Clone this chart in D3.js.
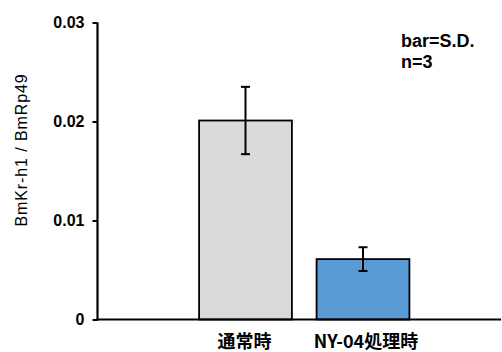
<!DOCTYPE html>
<html><head><meta charset="utf-8">
<script src="https://cdn.jsdelivr.net/npm/d3@7"></script>
<style>body{margin:0;background:#fff}svg{display:block}</style>
</head><body>
<svg id="c" width="502" height="352"></svg>
<script>
const categories = ["通常時", "NY-04処理時"];
const means = [0.0201, 0.0061];
const sds = [0.0034, 0.0012];
const colors = ["#d9d9d9", "#5b9bd5"];
const yTicks = [0, 0.01, 0.02, 0.03];
const yTickLabels = ["0", "0.01", "0.02", "0.03"];

const svg = d3.select("#c");
const font = "'Liberation Sans', Arial, sans-serif";
const y = d3.scaleLinear().domain([0, 0.03]).range([319.5, 22.5]);
const x = d3.scaleBand().domain(categories).range([186.75, 421.75]).paddingInner(0.21).paddingOuter(0.105);
const axisX = 97.5;

// bars
svg.selectAll("rect.bar").data(categories).enter().append("rect")
  .attr("x", d => x(d)).attr("width", x.bandwidth())
  .attr("y", (d,i) => y(means[i])).attr("height", (d,i) => y(0) - y(means[i]))
  .attr("fill", (d,i) => colors[i]).attr("stroke", "#000").attr("stroke-width", 1.8);

// error bars
categories.forEach((c,i) => {
  const cx = x(c) + x.bandwidth()/2;
  const g = svg.append("g").attr("stroke", "#000").attr("stroke-width", 2);
  g.append("line").attr("x1", cx).attr("x2", cx).attr("y1", y(means[i]+sds[i])).attr("y2", y(means[i]-sds[i]));
  [means[i]+sds[i], means[i]-sds[i]].forEach(v => {
    g.append("line").attr("x1", cx-4.5).attr("x2", cx+4.5).attr("y1", y(v)).attr("y2", y(v));
  });
});

// y axis
const ya = d3.axisLeft(y).tickValues(yTicks).tickFormat((d,i) => yTickLabels[i]).tickSize(5).tickPadding(8);
const yg = svg.append("g").attr("transform", `translate(${axisX},0)`).call(ya);
yg.attr("font-size", null).attr("font-family", null);
yg.select(".domain").attr("stroke", "#000").attr("stroke-width", 2.2).attr("d", `M0,${y(0.03)}V${y(0)+1}`);
yg.selectAll(".tick line").attr("stroke", "#000").attr("stroke-width", 2);
yg.selectAll(".tick text").style("font-family", font).style("font-size", "16px").style("font-weight", "bold").attr("fill", "#000");

// x axis line
svg.append("line").attr("x1", axisX-1).attr("x2", 501).attr("y1", y(0)).attr("y2", y(0))
  .attr("stroke", "#000").attr("stroke-width", 2.2);

// x labels
svg.selectAll("text.cat").data(categories).enter().append("text")
  .attr("x", (d,i) => x(d) + x.bandwidth()/2 + (i === 1 ? 3 : -1)).attr("y", 348)
  .attr("text-anchor", "middle").style("font-family", "'Noto Sans CJK JP', sans-serif")
  .style("font-size", "18px").style("font-weight", "bold").attr("fill", "#000").text(d => d);

// y label
svg.append("text").attr("transform", "translate(27,150) rotate(-90)")
  .attr("text-anchor", "middle").style("font-family", font).style("font-size", "16px")
  .style("letter-spacing", "0.9px").attr("fill", "#000").text("BmKr-h1 / BmRp49");

// annotation
svg.append("text").attr("x", 401).attr("y", 47).style("font-family", font).style("font-size", "18px").style("font-weight", "bold").attr("fill", "#000").text("bar=S.D.");
svg.append("text").attr("x", 401).attr("y", 68).style("font-family", font).style("font-size", "18px").style("font-weight", "bold").attr("fill", "#000").text("n=3");
</script>
</body></html>
